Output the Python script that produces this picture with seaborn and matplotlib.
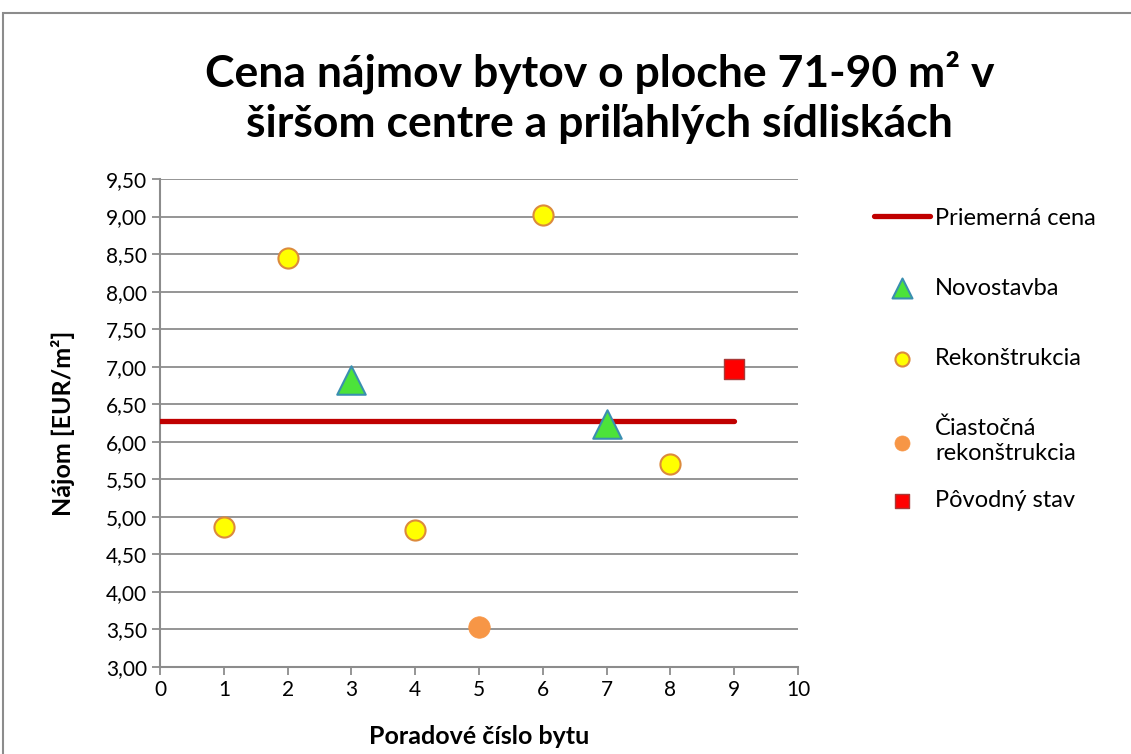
import pandas as pd
import matplotlib
matplotlib.use("Agg")
import matplotlib.pyplot as plt
import seaborn as sns
from matplotlib.patches import Rectangle

# data
byt_cislo = [1, 2, 3, 4, 5, 6, 7, 8, 9]
najom = [4.86, 8.45, 6.82, 4.82, 3.53, 9.02, 6.23, 5.70, 6.97]
stav = ["Rekonštrukcia", "Rekonštrukcia", "Novostavba", "Rekonštrukcia",
        "Čiastočná\nrekonštrukcia", "Rekonštrukcia", "Novostavba",
        "Rekonštrukcia", "Pôvodný stav"]
priemer_x = [0, 9]
priemer_y = [6.27, 6.27]
y_ticks = [3.0, 3.5, 4.0, 4.5, 5.0, 5.5, 6.0, 6.5, 7.0, 7.5, 8.0, 8.5, 9.0, 9.5]
x_ticks = [0, 1, 2, 3, 4, 5, 6, 7, 8, 9, 10]

df = pd.DataFrame({"x": byt_cislo, "y": najom, "stav": stav})

sns.set_theme(style="white")
plt.rcParams["font.family"] = ["Lato", "DejaVu Sans"]
plt.rcParams["text.color"] = "black"
plt.rcParams["axes.labelcolor"] = "black"

fig = plt.figure(figsize=(11.31, 7.54), dpi=100)
ax = fig.add_axes([0.1415, 0.1154, 0.5641, 0.6472])

# outer chart frame
fig.patches.append(Rectangle((0.003, -0.1), 1.2, 1.083, transform=fig.transFigure,
                             fill=False, edgecolor="#8c8c8c", linewidth=1.5))

sns.lineplot(x=priemer_x, y=priemer_y, ax=ax, color="#C00000", linewidth=3.8,
             solid_capstyle="round", label="Priemerná cena", zorder=3)

styles = {
    "Novostavba": dict(marker="^", s=420, color="#4CE33A", edgecolor="#3A8FB0", linewidth=1.5),
    "Rekonštrukcia": dict(marker="o", s=210, color="#FFFF00", edgecolor="#DC8A3C", linewidth=1.5),
    "Čiastočná\nrekonštrukcia": dict(marker="o", s=240, color="#F79646", edgecolor="#F79646", linewidth=0.5),
    "Pôvodný stav": dict(marker="s", s=190, color="#FF0000", edgecolor="#A83A38", linewidth=1.0),
}
for name, st in styles.items():
    sub = df[df["stav"] == name]
    sns.scatterplot(data=sub, x="x", y="y", ax=ax, label=name, zorder=4, **st)

ax.set_xlim(0, 10)
ax.set_ylim(3.0, 9.5)
ax.set_xticks(x_ticks)
ax.set_yticks(y_ticks)
ax.set_yticklabels([f"{v:.2f}".replace(".", ",") for v in y_ticks])
ax.set_xticklabels([str(v) for v in x_ticks])
ax.tick_params(axis="both", labelsize=15, colors="#8c8c8c", labelcolor="black",
               length=6, width=1.3, direction="out", bottom=True, left=True)
ax.yaxis.grid(True, color="#8c8c8c", linewidth=1.3)
ax.xaxis.grid(False)
for side in ["top", "right"]:
    ax.spines[side].set_visible(False)
for side in ["left", "bottom"]:
    ax.spines[side].set_color("#8c8c8c")
    ax.spines[side].set_linewidth(1.5)

ax.set_xlabel("Poradové číslo bytu", fontsize=18, fontweight="bold", labelpad=18)
ax.set_ylabel("Nájom [EUR/m²]", fontsize=18, fontweight="bold", labelpad=22)

fig.text(0.53, 0.871, "Cena nájmov bytov o ploche 71-90 m² v\nširšom centre a priľahlých sídliskách",
         ha="center", va="center", fontsize=32, fontweight="bold", linespacing=1.32)

handles, labels = ax.get_legend_handles_labels()
leg1 = ax.legend(handles[:4], labels[:4], loc="upper left", bbox_to_anchor=(1.085, 0.985),
                 frameon=False, fontsize=17, labelspacing=2.08, handlelength=2.4,
                 handletextpad=0.2, markerscale=0.7)
ax.add_artist(leg1)
ax.legend(handles[4:], labels[4:], loc="center left", bbox_to_anchor=(1.085, 0.341),
          frameon=False, fontsize=17, handlelength=2.4, handletextpad=0.2, markerscale=0.7)

fig.savefig("out.png", dpi=100)
